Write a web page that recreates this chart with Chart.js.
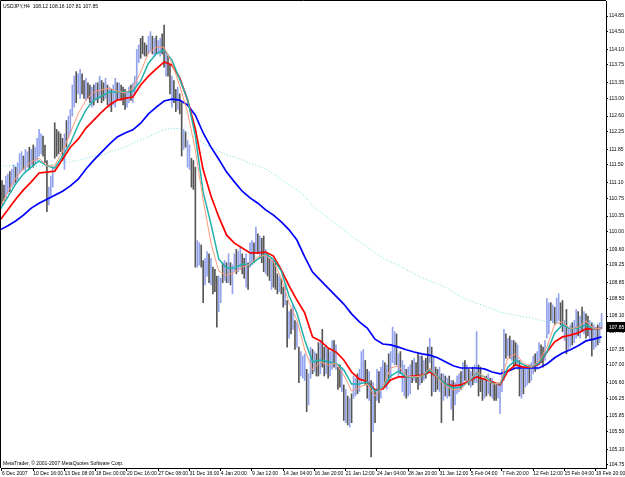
<!DOCTYPE html>
<html><head><meta charset="utf-8">
<script src="https://cdn.jsdelivr.net/npm/chart.js@4/dist/chart.umd.min.js"></script>
<style>html,body{margin:0;padding:0;background:#fff;}#wrap{width:625px;height:477px;}</style>
</head><body><div id="wrap"><canvas id="c" width="625" height="477"></canvas></div>
<script>
const symbolTitle = 'USDJPY,H4  108.12 108.16 107.81 107.85';
const copyright = 'MetaTrader, \u00A9 2001-2007 MetaQuotes Software Corp.';
const timeLabels = ['6 Dec 2007','10 Dec 16:00','13 Dec 08:00','18 Dec 00:00','20 Dec 16:00','27 Dec 08:00','31 Dec 16:00','4 Jan 20:00','9 Jan 12:00','14 Jan 04:00','16 Jan 20:00','21 Jan 12:00','24 Jan 04:00','28 Jan 20:00','31 Jan 12:00','5 Feb 04:00','7 Feb 20:00','12 Feb 12:00','15 Feb 04:00','19 Feb 20:00'];
const labelEvery = 16;
const yTickLabels = ['114.85','114.50','114.10','113.75','113.35','113.00','112.60','112.25','111.85','111.50','111.10','110.75','110.35','110.00','109.60','109.25','108.85','108.50','108.10','107.75','107.35','107.00','106.60','106.25','105.85','105.50','105.10','104.75'];
const lastPrice = 107.85;

const barLows = [
110.60,110.70,110.75,110.85,110.90,111.00,111.05,111.10,111.15,111.30,
111.35,111.40,111.35,111.45,111.40,111.50,111.45,111.55,111.60,111.70,
111.75,111.70,111.55,110.45,110.60,110.80,111.00,111.65,111.70,111.75,
111.80,111.60,111.40,111.90,112.10,112.20,112.60,112.80,112.90,113.10,
113.00,113.10,113.00,112.95,113.00,112.90,112.80,112.85,112.95,112.90,
113.00,112.90,112.95,113.00,112.85,112.80,112.70,112.85,112.80,112.95,
113.00,112.95,112.85,112.75,112.80,112.90,112.95,112.90,113.10,113.30,
113.80,113.90,114.00,113.95,113.95,114.00,114.05,114.00,113.95,114.00,
114.00,113.95,114.00,113.70,113.50,113.50,113.10,112.80,112.90,112.70,
112.75,112.65,111.70,111.85,111.90,111.45,111.40,111.00,110.95,109.20,
109.20,109.25,109.20,108.40,108.80,109.00,108.85,108.80,108.60,108.65,
107.85,108.20,108.40,108.85,108.90,108.85,108.85,108.80,108.60,109.10,
109.05,109.10,109.15,109.05,108.95,108.75,108.70,109.20,109.25,109.30,
109.55,109.50,109.40,109.30,109.10,109.05,109.00,108.90,108.70,108.75,
108.70,108.60,108.65,108.60,108.30,108.35,107.40,107.60,107.70,107.80,
107.35,107.40,106.60,106.75,106.70,106.65,105.95,106.10,106.70,106.80,
106.85,106.75,106.75,106.80,106.95,106.75,106.80,106.70,106.75,106.90,
106.95,106.90,106.45,106.50,106.40,105.75,105.70,105.65,105.60,105.70,
106.25,106.30,106.35,106.40,106.60,106.65,106.55,106.25,106.20,104.93,
105.50,105.70,106.20,106.15,106.25,106.45,106.50,106.45,106.65,106.70,
107.05,107.00,107.00,106.75,106.80,106.40,106.30,106.25,106.30,106.35,
106.60,106.65,106.60,106.45,106.55,106.60,106.65,106.70,106.80,107.05,
106.30,106.40,106.40,106.45,106.40,105.70,106.20,106.30,106.25,106.30,
106.00,105.75,106.10,106.35,106.40,106.45,106.60,106.65,106.60,106.55,
106.50,106.55,106.60,106.60,106.30,106.40,106.20,106.25,106.30,106.35,
106.30,106.25,106.20,106.20,106.25,105.90,106.40,106.65,107.15,107.20,
107.15,107.10,106.95,107.00,106.90,106.30,106.25,106.35,106.50,106.55,
106.60,106.65,106.80,106.85,106.90,107.00,107.05,106.95,107.10,107.60,
107.70,108.00,107.95,107.90,107.95,108.00,107.90,107.75,107.55,107.25,
107.35,107.40,107.45,107.50,107.60,107.65,107.60,107.75,107.70,107.60,
107.65,107.55,107.20,107.35,107.40,107.45,107.50,107.81];

const barHighs = [
111.15,111.05,111.25,111.30,111.35,111.40,111.50,111.45,111.55,111.75,
111.80,111.70,111.85,111.80,111.90,111.85,111.95,111.90,112.10,112.30,
112.20,112.15,111.95,111.60,111.00,111.25,111.45,112.45,112.30,112.25,
112.20,112.10,112.20,112.50,112.60,112.75,113.30,113.50,113.60,113.55,
113.65,113.55,113.40,113.45,113.35,113.30,113.25,113.30,113.35,113.35,
113.50,113.40,113.35,113.45,113.30,113.25,113.20,113.30,113.45,113.35,
113.35,113.30,113.25,113.20,113.15,113.25,113.30,113.35,113.50,114.10,
114.20,114.35,114.40,114.25,114.20,114.40,114.50,114.40,114.35,114.40,
114.30,114.35,114.45,114.65,114.05,113.95,113.75,113.50,113.40,113.20,
113.25,113.10,112.90,112.30,112.25,112.05,111.95,111.65,111.60,111.45,
109.80,109.75,109.70,109.35,109.40,109.55,109.50,109.40,109.20,109.15,
109.00,109.00,108.95,109.30,109.35,109.30,109.50,109.30,109.25,109.50,
109.60,109.55,109.65,109.50,109.40,109.50,109.30,109.75,109.80,109.75,
110.10,109.95,109.90,109.85,109.90,109.60,109.50,109.40,109.40,109.35,
109.30,109.05,109.00,108.95,108.75,108.80,108.45,108.20,108.25,108.35,
108.00,107.95,107.40,107.30,107.20,107.25,106.90,106.80,107.40,107.35,
107.30,107.25,107.50,107.55,107.80,107.40,107.45,107.35,107.30,107.55,
107.55,107.45,106.95,107.00,106.90,106.55,106.45,106.30,106.25,106.35,
106.75,106.70,106.80,106.90,107.30,107.35,107.10,106.90,106.85,106.65,
106.60,106.40,106.90,106.85,106.95,107.10,107.05,107.00,107.25,107.30,
107.85,107.75,107.70,107.25,107.30,107.10,107.00,106.90,106.95,107.00,
107.10,107.15,107.05,107.25,107.20,107.20,107.10,107.15,107.40,107.60,
107.40,107.20,106.95,106.90,106.95,106.80,106.80,106.75,106.70,106.75,
106.65,106.65,106.60,106.75,106.80,106.85,107.05,107.10,107.00,106.90,
106.85,106.95,107.00,107.75,107.00,106.95,106.70,106.65,106.75,106.80,
106.70,106.70,106.60,106.55,106.60,106.60,106.90,107.80,107.70,107.60,
107.65,107.55,107.55,107.50,107.45,107.10,106.95,106.90,107.00,106.95,
107.00,107.05,107.20,107.25,107.30,107.50,107.45,107.40,107.55,108.50,
108.40,108.40,108.35,108.30,108.50,108.60,108.40,108.45,108.00,108.25,
107.85,107.90,107.95,108.00,108.25,108.20,108.10,108.30,108.20,108.15,
108.10,108.00,107.95,107.90,107.85,107.90,107.95,108.16];

const barUp = [
0,0,1,1,0,1,1,0,1,1, 1,0,1,1,0,1,0,1,1,1, 1,0,0,0,1,1,1,0,0,0, 0,0,1,0,1,1,1,1,0,1,
1,0,0,1,0,0,1,0,1,0, 1,0,0,1,0,1,0,1,1,0, 1,0,0,0,1,1,0,1,1,1, 1,0,0,0,0,1,1,0,1,0,
1,1,0,0,1,0,0,1,0,0, 1,0,0,1,0,1,1,0,0,0, 1,1,0,0,1,1,0,1,0,0, 0,1,1,0,1,0,1,0,1,1,
0,1,1,0,0,1,0,1,1,0, 1,0,1,0,0,1,0,0,1,0, 0,0,1,0,0,1,0,1,0,1, 0,1,0,1,1,1,0,1,1,0,
1,0,0,1,0,0,1,0,1,1, 0,1,0,0,1,0,1,0,1,0, 1,1,0,1,1,1,0,0,1,0, 1,0,1,0,1,1,0,1,0,1,
1,1,0,1,0,1,1,0,1,1, 0,1,0,0,1,0,1,0,0,1, 0,1,0,0,1,0,1,0,1,0, 1,0,1,1,1,0,1,0,1,0,
1,0,1,1,0,0,0,1,0,1, 0,1,0,0,1,1,1,1,0,1, 0,1,0,0,1,0,1,0,1,1, 0,1,1,0,1,1,0,0,1,1,
1,0,1,0,1,1,0,0,1,0, 1,1,0,1,1,0,1,0,1,0, 0,1,0,1,1,0,1,1];

const maStart = -1, maStep = 4;
const maFast = [
110.55,110.89,111.20,111.43,111.57,111.65,111.48,111.48,111.81,112.22,
112.65,112.96,113.14,113.19,113.23,113.16,113.12,113.23,113.59,114.02,
114.15,114.15,113.79,113.28,112.69,111.84,110.71,109.74,109.11,109.02,
109.09,109.20,109.27,109.43,109.47,109.32,108.96,108.39,108.01,107.34,
106.89,107.07,107.00,107.04,106.77,106.41,106.50,106.57,106.30,106.50,
106.93,106.98,106.75,106.73,106.75,106.93,106.71,106.53,106.44,106.46,
106.64,106.84,106.73,106.57,106.59,107.16,107.25,107.04,106.95,107.09,
107.40,107.92,107.97,107.81,107.85,107.99,107.81,107.83];
const maTeal = [
110.49,110.78,111.07,111.30,111.45,111.59,111.48,111.43,111.70,111.99,
112.40,112.74,112.96,113.05,113.14,113.14,113.14,113.16,113.39,113.79,
114.00,114.09,113.86,113.43,112.98,112.15,110.89,110.17,109.38,109.18,
109.18,109.27,109.25,109.38,109.50,109.38,109.11,108.55,108.17,107.56,
107.07,107.11,107.07,107.04,106.89,106.57,106.57,106.62,106.41,106.50,
106.75,106.86,106.73,106.73,106.75,106.89,106.73,106.57,106.48,106.50,
106.62,106.82,106.73,106.59,106.57,106.95,107.11,107.00,106.95,107.04,
107.29,107.72,107.90,107.81,107.83,107.90,107.81,107.83];
const maRed = [
110.26,110.49,110.73,110.94,111.12,111.32,111.34,111.36,111.63,111.90,
112.08,112.33,112.51,112.69,112.85,112.96,113.00,113.03,113.30,113.50,
113.66,113.82,113.75,113.46,112.96,112.31,111.39,110.80,110.33,109.92,
109.74,109.63,109.52,109.52,109.54,109.45,109.14,108.78,108.46,108.17,
107.63,107.54,107.38,107.29,107.11,106.84,106.68,106.62,106.44,106.46,
106.66,106.73,106.73,106.75,106.77,106.84,106.73,106.57,106.53,106.55,
106.64,106.73,106.68,106.62,106.55,106.86,107.00,106.95,106.95,107.02,
107.29,107.52,107.63,107.67,107.72,107.81,107.81,107.83];
const maBlue = [
110.04,110.13,110.24,110.37,110.53,110.64,110.73,110.82,110.91,111.03,
111.18,111.41,111.61,111.79,111.97,112.13,112.22,112.29,112.44,112.65,
112.80,112.94,112.98,112.96,112.85,112.62,112.22,111.90,111.63,111.34,
111.12,110.91,110.76,110.64,110.49,110.37,110.22,110.04,109.81,109.43,
109.09,108.91,108.73,108.55,108.37,108.15,107.97,107.83,107.58,107.47,
107.45,107.40,107.34,107.29,107.25,107.22,107.16,107.07,106.98,106.93,
106.93,106.93,106.91,106.84,106.80,106.86,106.93,106.93,106.93,106.93,
107.02,107.16,107.27,107.34,107.43,107.54,107.58,107.63];
const maSlow = [
111.48,111.48,111.48,111.48,111.48,111.48,111.50,111.52,111.54,111.57,
111.61,111.65,111.70,111.72,111.79,111.84,111.90,111.99,112.06,112.13,
112.22,112.29,112.33,112.31,112.22,112.11,111.99,111.90,111.81,111.72,
111.68,111.61,111.54,111.48,111.41,111.30,111.18,111.05,110.94,110.80,
110.58,110.44,110.31,110.17,110.04,109.90,109.77,109.65,109.52,109.41,
109.32,109.25,109.14,109.05,108.96,108.89,108.82,108.75,108.64,108.53,
108.46,108.39,108.33,108.26,108.19,108.15,108.12,108.08,108.06,108.01,
107.97,107.94,107.94,107.94,107.97,107.97,107.94,107.94];

const FONT = '"Liberation Sans", Arial, sans-serif';
const maPoints = arr => arr.map((v, k) => ({x: maStart + k * maStep, y: v}));
const line = (arr, color, width, order, dash) => ({
  type: 'line', data: maPoints(arr), borderColor: color, borderWidth: width,
  borderDash: dash || [], pointRadius: 0, tension: 0, fill: false, order: order
});

const decor = {
  id: 'decor',
  afterDraw(chart) {
    const {ctx, chartArea: a, scales: {y}} = chart;
    ctx.save();
    ctx.strokeStyle = '#000'; ctx.lineWidth = 1;
    ctx.beginPath();
    ctx.moveTo(0.5, a.bottom); ctx.lineTo(0.5, 0.5); ctx.lineTo(a.right, 0.5);
    ctx.stroke();
    ctx.font = '5px ' + FONT; ctx.fillStyle = '#000'; ctx.textBaseline = 'alphabetic';
    ctx.fillText(symbolTitle, 3, 8);
    ctx.fillText(copyright, 3, 465);
    const py = Math.round(y.getPixelForValue(lastPrice));
    ctx.fillStyle = '#000';
    ctx.fillRect(a.right + 1, py - 5, 625 - a.right - 1, 10);
    ctx.fillStyle = '#fff'; ctx.textBaseline = 'middle';
    ctx.fillText(lastPrice.toFixed(2), a.right + 3, py + 0.5);
    ctx.restore();
  }
};

new Chart(document.getElementById('c'), {
  type: 'bar',
  data: {
    datasets: [
      line(maFast, '#ff9a76', 1, 1),
      line(maTeal, '#20b2aa', 1.5, 2),
      line(maRed, '#ff0000', 1.7, 3),
      line(maBlue, '#0000ff', 1.7, 4),
      line(maSlow, '#6fe0e0', 1, 5, [1, 2]),
      {
        type: 'bar',
        data: barLows.map((l, i) => ({x: i, y: [l, barHighs[i]]})),
        backgroundColor: barUp.map(u => u ? '#94a3ee' : '#555555'),
        borderWidth: 0, barThickness: 1, grouped: false, order: 10
      }
    ]
  },
  options: {
    responsive: false, animation: false, devicePixelRatio: 1,
    layout: {padding: {left: 1, top: 1, right: 0, bottom: 0}},
    plugins: {legend: {display: false}, tooltip: {enabled: false}},
    scales: {
      x: {
        type: 'linear', min: -0.51, max: 309.26, offset: false,
        grid: {display: true, drawOnChartArea: false, tickLength: 3, color: '#000', offset: false},
        border: {display: true, color: '#000'},
        ticks: {autoSkip: false, maxRotation: 0, minRotation: 0, align: 'start', padding: 0,
          font: {family: FONT, size: 5}, color: '#000',
          callback: (v, i) => timeLabels[i]},
        afterBuildTicks: s => { s.ticks = timeLabels.map((_, j) => ({value: j * labelEvery})); },
        afterFit: s => { s.height = 9; s.paddingLeft = 0; s.paddingRight = 0; }
      },
      y: {
        type: 'linear', position: 'right', min: 104.68, max: 115.19,
        grid: {display: true, drawOnChartArea: false, tickLength: 2, color: '#000'},
        border: {display: true, color: '#000'},
        ticks: {autoSkip: false, padding: 1, font: {family: FONT, size: 5}, color: '#000',
          callback: (v, i) => yTickLabels[i]},
        afterBuildTicks: s => { s.ticks = yTickLabels.map(t => ({value: parseFloat(t)})); },
        afterFit: s => { s.width = 19; s.paddingTop = 0; s.paddingBottom = 0; }
      }
    }
  },
  plugins: [decor]
});
</script></body></html>
